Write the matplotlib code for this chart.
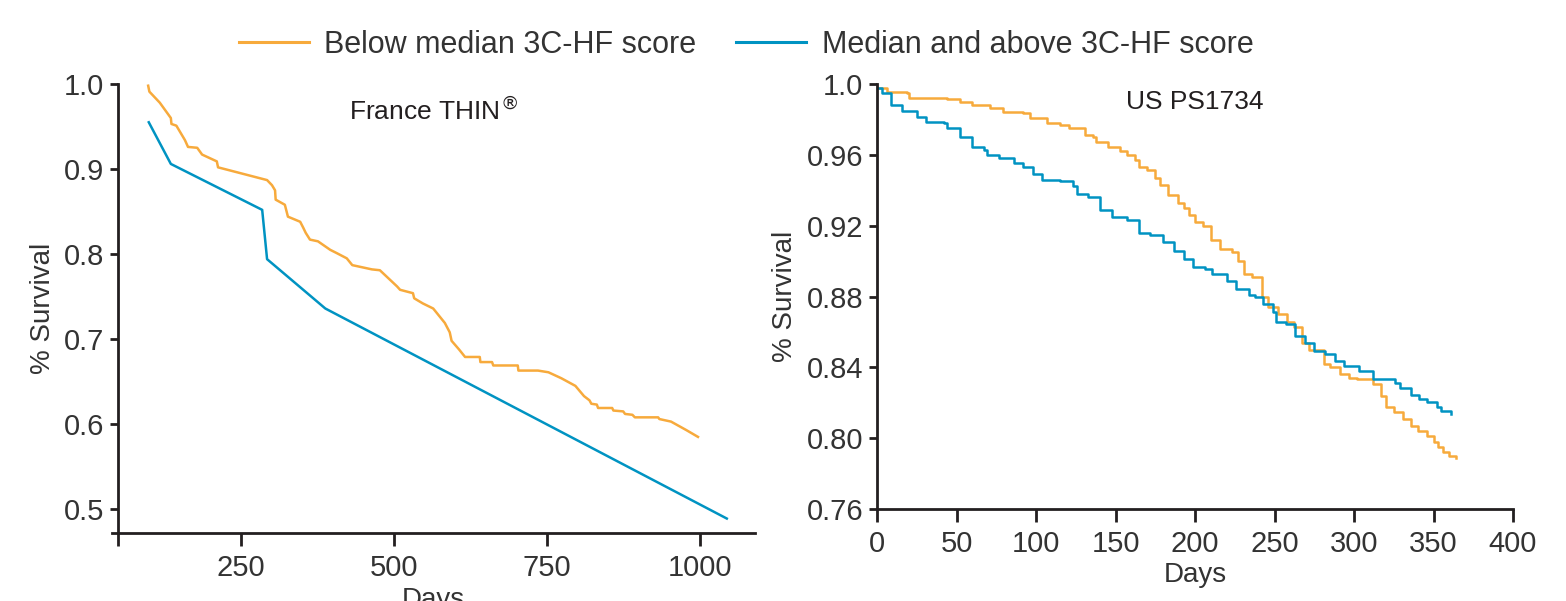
import matplotlib
matplotlib.use("Agg")
import matplotlib.pyplot as plt

plt.rcParams['font.family'] = ['Liberation Sans', 'DejaVu Sans']

ORANGE = '#F7AA3C'
BLUE = '#0093C2'
INK = '#231F20'

series_labels = ['Below median 3C-HF score', 'Median and above 3C-HF score']

# France THIN panel
fr_below_days = [99, 101, 118, 136, 137, 145, 159, 164, 179, 187, 211, 213, 293, 301, 306, 307,
                 322, 327, 347, 352, 356, 363, 376, 396, 407, 423, 432, 464, 477, 505, 510,
                 531, 533, 547, 564, 583, 591, 594, 606, 616, 640, 641, 660, 662, 702, 703,
                 735, 752, 773, 796, 810, 819, 822, 831, 833, 856, 858, 874, 877, 889, 893,
                 931, 933, 952, 977, 996]
fr_below_surv = [0.998, 0.991, 0.978, 0.960, 0.953, 0.951, 0.934, 0.926, 0.925, 0.917, 0.909, 0.902,
                 0.887, 0.881, 0.875, 0.864, 0.858, 0.844, 0.838, 0.831, 0.825, 0.817, 0.815,
                 0.805, 0.801, 0.795, 0.787, 0.782, 0.781, 0.762, 0.758, 0.754, 0.748, 0.742,
                 0.736, 0.719, 0.708, 0.698, 0.688, 0.679, 0.679, 0.673, 0.673, 0.669, 0.669,
                 0.663, 0.663, 0.661, 0.654, 0.645, 0.633, 0.628, 0.624, 0.623, 0.619, 0.619,
                 0.616, 0.615, 0.612, 0.611, 0.608, 0.608, 0.606, 0.603, 0.593, 0.585]
fr_above_days = [100, 136, 285, 293, 388, 1043]
fr_above_surv = [0.955, 0.906, 0.852, 0.794, 0.736, 0.489]

# US PS1734 panel
us_below_days = [0, 6, 19, 20, 44, 52, 60, 71, 79, 92, 96, 107, 115, 121, 126, 131, 136, 138, 145,
                 153, 157, 162, 165, 170, 175, 178, 183, 189, 193, 196, 200, 205, 210, 216, 223,
                 227, 231, 236, 242, 246, 252, 258, 262, 267, 272, 281, 285, 291, 297, 302,
                 312, 317, 320, 325, 331, 336, 340, 346, 350, 353, 356, 360, 364]
us_below_surv = [0.998, 0.9955, 0.995, 0.992, 0.9915, 0.990, 0.988, 0.9865, 0.984, 0.9835, 0.981,
                 0.978, 0.977, 0.975, 0.975, 0.971, 0.970, 0.967, 0.9645, 0.962, 0.960, 0.957,
                 0.953, 0.9515, 0.947, 0.943, 0.9375, 0.933, 0.930, 0.926, 0.922, 0.920,
                 0.912, 0.907, 0.905, 0.900, 0.8925, 0.891, 0.8795, 0.874, 0.870, 0.8655,
                 0.863, 0.854, 0.850, 0.842, 0.840, 0.836, 0.834, 0.8335, 0.8305, 0.824,
                 0.8175, 0.815, 0.811, 0.807, 0.804, 0.801, 0.798, 0.795, 0.792, 0.790, 0.789]
us_above_days = [0, 3, 9, 16, 25, 31, 42, 44, 52, 60, 67, 69, 77, 86, 92, 98, 104, 115, 123,
                 126, 133, 140, 148, 157, 165, 172, 180, 187, 193, 199, 206, 211, 220, 226,
                 234, 238, 243, 249, 251, 257, 263, 269, 275, 282, 288, 294, 303, 312, 326,
                 329, 336, 341, 346, 352, 355, 361]
us_above_surv = [0.998, 0.995, 0.988, 0.985, 0.9815, 0.9786, 0.978, 0.975, 0.970, 0.9645, 0.963,
                 0.960, 0.958, 0.9555, 0.953, 0.949, 0.946, 0.945, 0.9425, 0.938, 0.936,
                 0.929, 0.925, 0.9234, 0.916, 0.915, 0.9105, 0.9055, 0.901, 0.8964, 0.8953,
                 0.8925, 0.8885, 0.884, 0.8806, 0.880, 0.8756, 0.871, 0.8655, 0.8644,
                 0.8575, 0.854, 0.849, 0.8474, 0.8435, 0.8407, 0.838, 0.8333, 0.8311,
                 0.8283, 0.8244, 0.822, 0.8204, 0.8176, 0.8153, 0.8136]

fr_xticks = [50, 250, 500, 750, 1000]
fr_xticklabels = ['', '250', '500', '750', '1000']
fr_yticks = [0.5, 0.6, 0.7, 0.8, 0.9, 1.0]
fr_yticklabels = ['0.5', '0.6', '0.7', '0.8', '0.9', '1.0']
us_xticks = [0, 50, 100, 150, 200, 250, 300, 350, 400]
us_yticks = [0.76, 0.80, 0.84, 0.88, 0.92, 0.96, 1.0]
us_yticklabels = ['0.76', '0.80', '0.84', '0.88', '0.92', '0.96', '1.0']

W, H = 1566, 601
fig = plt.figure(figsize=(W / 100, H / 100), dpi=100)


def style_axes(ax):
    for s in ['top', 'right']:
        ax.spines[s].set_visible(False)
    for s in ['left', 'bottom']:
        ax.spines[s].set_linewidth(2.0)
        ax.spines[s].set_color(INK)
    ax.tick_params(axis='both', colors=INK, width=2.0, labelsize=21, labelcolor='#333333')
    ax.tick_params(axis='x', length=9, pad=6)
    ax.tick_params(axis='y', length=6, pad=4)


# left panel
ax1 = fig.add_axes([112 / W, 1 - 533 / H, (755 - 112) / W, (533 - 84) / H])
ax1.plot(fr_below_days, fr_below_surv, color=ORANGE, lw=1.8, label=series_labels[0])
ax1.plot(fr_above_days, fr_above_surv, color=BLUE, lw=1.8, label=series_labels[1])
ax1.set_xlim(40, 1089)
ax1.set_ylim(0.472, 1.0)
ax1.spines['left'].set_position(('data', 50))
ax1.set_xticks(fr_xticks)
ax1.set_xticklabels(fr_xticklabels)
ax1.set_yticks(fr_yticks)
ax1.set_yticklabels(fr_yticklabels)
style_axes(ax1)
ax1.set_ylabel('% Survival', fontsize=20, color='#333333', labelpad=6)
ax1.set_xlabel('Days', fontsize=20, color='#333333', labelpad=4)
ax1.text(0.5, 0.94, r'France THIN$^{®}$', transform=ax1.transAxes, ha='center', va='center',
         fontsize=19, color=INK)

# right panel
ax2 = fig.add_axes([877 / W, 1 - 509 / H, (1513 - 877) / W, (509 - 84) / H])
ax2.step(us_below_days, us_below_surv, where='post', color=ORANGE, lw=1.8)
ax2.step(us_above_days, us_above_surv, where='post', color=BLUE, lw=1.8)
ax2.set_xlim(0, 400)
ax2.set_ylim(0.76, 1.0)
ax2.set_xticks(us_xticks)
ax2.set_yticks(us_yticks)
ax2.set_yticklabels(us_yticklabels)
style_axes(ax2)
ax2.set_ylabel('% Survival', fontsize=20, color='#333333', labelpad=6)
ax2.set_xlabel('Days', fontsize=20, color='#333333', labelpad=3)
ax2.text(0.5, 0.958, 'US PS1734', transform=ax2.transAxes, ha='center', va='center',
         fontsize=19, color=INK)

leg = fig.legend(loc='center', bbox_to_anchor=(746 / W, 1 - 45 / H), ncol=2, frameon=False,
                 fontsize=22, handlelength=2.3, handletextpad=0.5, columnspacing=1.3)
for t in leg.get_texts():
    t.set_color('#333333')
for h in leg.get_lines():
    h.set_linewidth(2.2)

fig.savefig('out.png', dpi=100)
